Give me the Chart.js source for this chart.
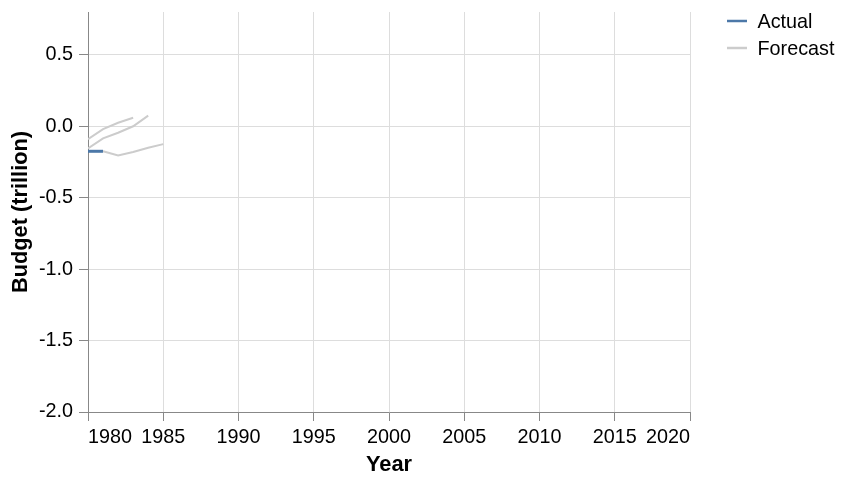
<!DOCTYPE html>
<html>
<head>
  <title>Budget forecasts</title>
  <meta charset="utf-8" />
  <style>
    body { margin: 0; background: #fff; }
    #wrap { position: relative; width: 846px; height: 492px; }
  </style>
</head>
<body>
  <div id="wrap"><canvas id="chart"></canvas></div>

  <script src="https://cdn.jsdelivr.net/npm/chart.js"></script>
  <script>
    // values, in trillion
    const actualYears = [1980, 1981];
    const actualValues = [-0.175, -0.175];

    const forecastAYears = [1980, 1981, 1982, 1983];
    const forecastAValues = [-0.09, -0.02, 0.025, 0.06];
    const forecastBYears = [1980, 1981, 1982, 1983, 1984];
    const forecastBValues = [-0.155, -0.085, -0.045, 0.0, 0.075];
    const forecastCYears = [1981, 1982, 1983, 1984, 1985];
    const forecastCValues = [-0.175, -0.205, -0.18, -0.15, -0.125];

    const xTicks = [1980, 1985, 1990, 1995, 2000, 2005, 2010, 2015, 2020];
    const yTicks = [-2.0, -1.5, -1.0, -0.5, 0.0, 0.5];

    const legendLabels = ['Actual', 'Forecast'];
    const BLUE = '#4c78a8';
    const GRAY = '#cccccc';
    const FONT = '"Liberation Sans", Arial, Helvetica, sans-serif';
    const LABEL_SIZE = 19.8;
    const TITLE_SIZE = 21.8;

    function pts(xs, ys) {
      return xs.map((x, i) => ({ x: x, y: ys[i] }));
    }

    function forecastSet(xs, ys) {
      return { label: 'Forecast', data: pts(xs, ys), borderColor: GRAY, borderWidth: 2,
               pointRadius: 0, tension: 0, fill: false };
    }

    // legend drawn on the canvas, top right
    const sideLegend = {
      id: 'sideLegend',
      afterDraw(chart) {
        const ctx = chart.ctx;
        const colors = [BLUE, GRAY];
        ctx.save();
        ctx.font = LABEL_SIZE + 'px ' + FONT;
        ctx.textBaseline = 'middle';
        ctx.textAlign = 'left';
        legendLabels.forEach((txt, i) => {
          const y = 21 + i * 27;
          ctx.strokeStyle = colors[i];
          ctx.lineWidth = 2.5;
          ctx.beginPath();
          ctx.moveTo(727, y);
          ctx.lineTo(747, y);
          ctx.stroke();
          ctx.fillStyle = '#000';
          ctx.fillText(txt, 757.5, y + 1.2);
        });
        ctx.restore();
      }
    };

    const ctx = document.getElementById('chart').getContext('2d');
    new Chart(ctx, {
      type: 'line',
      data: {
        datasets: [
          forecastSet(forecastAYears, forecastAValues),
          forecastSet(forecastBYears, forecastBValues),
          forecastSet(forecastCYears, forecastCValues),
          { label: 'Actual', data: pts(actualYears, actualValues), borderColor: BLUE, borderWidth: 3,
            pointRadius: 0, tension: 0, fill: false }
        ]
      },
      options: {
        responsive: true,
        maintainAspectRatio: false,
        animation: false,
        layout: { padding: { left: 0, right: 156, top: 12, bottom: 0 } },
        plugins: { legend: { display: false }, tooltip: { enabled: false } },
        scales: {
          x: {
            type: 'linear',
            min: 1980,
            max: 2020,
            afterBuildTicks: s => { s.ticks = xTicks.map(v => ({ value: v })); },
            afterFit: s => { s.height = 80; s.paddingLeft = 0; s.paddingRight = 0; },
            ticks: {
              align: 'inner',
              maxRotation: 0,
              autoSkip: false,
              padding: 5,
              color: '#000',
              font: { family: FONT, size: LABEL_SIZE },
              callback: v => String(v)
            },
            grid: { color: '#dddddd', lineWidth: 1, tickColor: '#888888', tickLength: 9 },
            border: { color: '#888888', width: 1 },
            title: {
              display: true,
              text: 'Year',
              color: '#000',
              font: { family: FONT, size: TITLE_SIZE, weight: 'bold' },
              padding: { top: 0, bottom: 14 }
            }
          },
          y: {
            min: -2.0,
            max: 0.8,
            afterBuildTicks: s => { s.ticks = yTicks.map(v => ({ value: v })); },
            afterFit: s => { s.width = 88; s.paddingTop = 0; s.paddingBottom = 0; },
            ticks: {
              padding: 6,
              color: '#000',
              font: { family: FONT, size: LABEL_SIZE },
              callback: v => v.toFixed(1)
            },
            grid: { color: '#dddddd', lineWidth: 1, tickColor: '#888888', tickLength: 9 },
            border: { color: '#888888', width: 1 },
            title: {
              display: true,
              text: 'Budget (trillion)',
              color: '#000',
              font: { family: FONT, size: TITLE_SIZE, weight: 'bold' },
              padding: { top: 8, bottom: 0 }
            }
          }
        }
      },
      plugins: [sideLegend]
    });
  </script>
</body>
</html>
